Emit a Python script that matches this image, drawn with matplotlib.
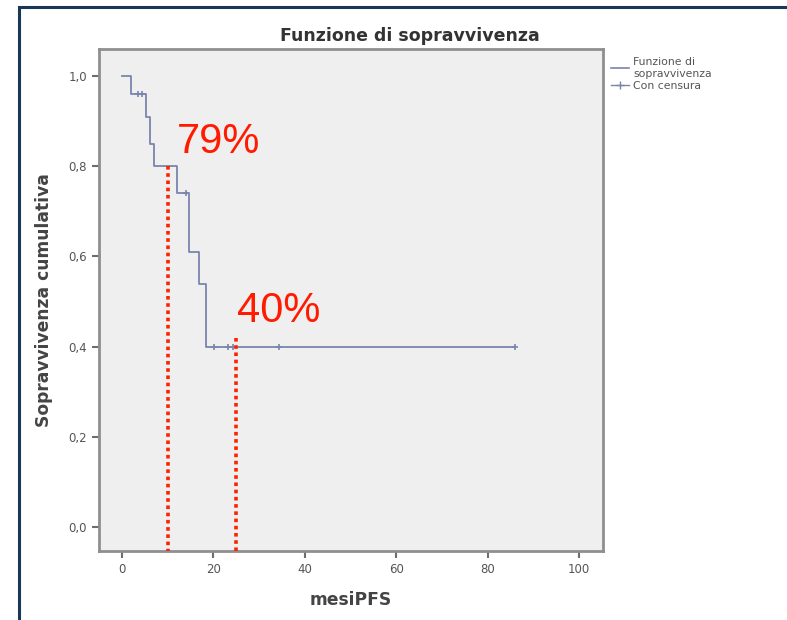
import matplotlib.pyplot as plt
from matplotlib.lines import Line2D
from matplotlib.patches import Rectangle
from matplotlib.ticker import FuncFormatter

# Data
step_times = [0, 2.1, 5.2, 6.1, 7.1, 12.1, 14.7, 16.9, 18.4, 86]
step_surv = [1.0, 0.96, 0.91, 0.85, 0.80, 0.74, 0.61, 0.54, 0.40, 0.40]
censor_times = [3.5, 4.3, 14.1, 20.2, 23.2, 24.4, 34.3, 86]
censor_surv = [0.96, 0.96, 0.74, 0.40, 0.40, 0.40, 0.40, 0.40]
marks_x = [10, 25]
marks_y = [0.80, 0.42]
labels = ['79%', '40%']
label_x = [12.0, 25.2]
label_y = [0.83, 0.455]

curve_color = '#7a84ad'
grey = '#6e6e6e'

fig = plt.figure(figsize=(7.87, 6.2), dpi=100)
ax = fig.add_axes([99 / 787, 1 - 551 / 620, (603 - 99) / 787, (551 - 49) / 620])
ax.set_facecolor('#efefef')

# KM curve
ax.step(step_times, step_surv, where='post', color=curve_color, lw=1.3, zorder=3)
ax.plot(censor_times, censor_surv, ls='none', marker='+', ms=5, mew=1.2,
        color=curve_color, zorder=3)

# red dotted markers
for x, y in zip(marks_x, marks_y):
    ax.plot([x, x], [y, -0.053], color='#ff2200', ls=(0, (1, 1)), lw=2.6, zorder=4,
            clip_on=False)
for x, y, t in zip(label_x, label_y, labels):
    ax.text(x, y, t, color='#ff1a00', fontsize=30, family='Liberation Sans',
            ha='left', va='baseline', zorder=5)

ax.set_xlim(-5, 105.2)
ax.set_ylim(-0.053, 1.06)
ax.set_xticks([0, 20, 40, 60, 80, 100])
ax.set_yticks([0, 0.2, 0.4, 0.6, 0.8, 1.0])
ax.yaxis.set_major_formatter(FuncFormatter(lambda v, p: f'{v:.1f}'.replace('.', ',')))
ax.tick_params(direction='out', length=5, width=1.5, color=grey,
               labelsize=8.5, labelcolor='#555555')
for s in ax.spines.values():
    s.set_color('#8f8f8f')
    s.set_linewidth(2)

# SPSS centres the title over chart + legend
ax.set_title('Funzione di sopravvivenza', fontsize=12.5, fontweight='bold',
             color='#333333', pad=6, x=0.617)
ax.set_xlabel('mesiPFS', fontsize=12.3, fontweight='bold', color='#444444', labelpad=11)
ax.set_ylabel('Sopravvivenza cumulativa', fontsize=12.3, fontweight='bold',
              color='#444444', labelpad=11)

# legend outside on the right
handles = [Line2D([], [], color=curve_color, lw=1.2),
           Line2D([], [], color=curve_color, lw=1.0, marker='+', ms=6)]
fig.legend(handles, ['Funzione di\nsopravvivenza', 'Con censura'],
           loc='upper left', bbox_to_anchor=(606 / 787, 1 - 52 / 620),
           frameon=False, fontsize=7.8, labelcolor='#555555',
           handlelength=1.6, handletextpad=0.4, labelspacing=0.15, borderpad=0)

# dark frame around the picture
fig.patches.append(Rectangle((19 / 787, -0.1), 1, 1 - 7 / 620 + 0.1,
                             transform=fig.transFigure, fill=False,
                             edgecolor='#1c3657', lw=2.2))

fig.savefig('out.png', dpi=100)
